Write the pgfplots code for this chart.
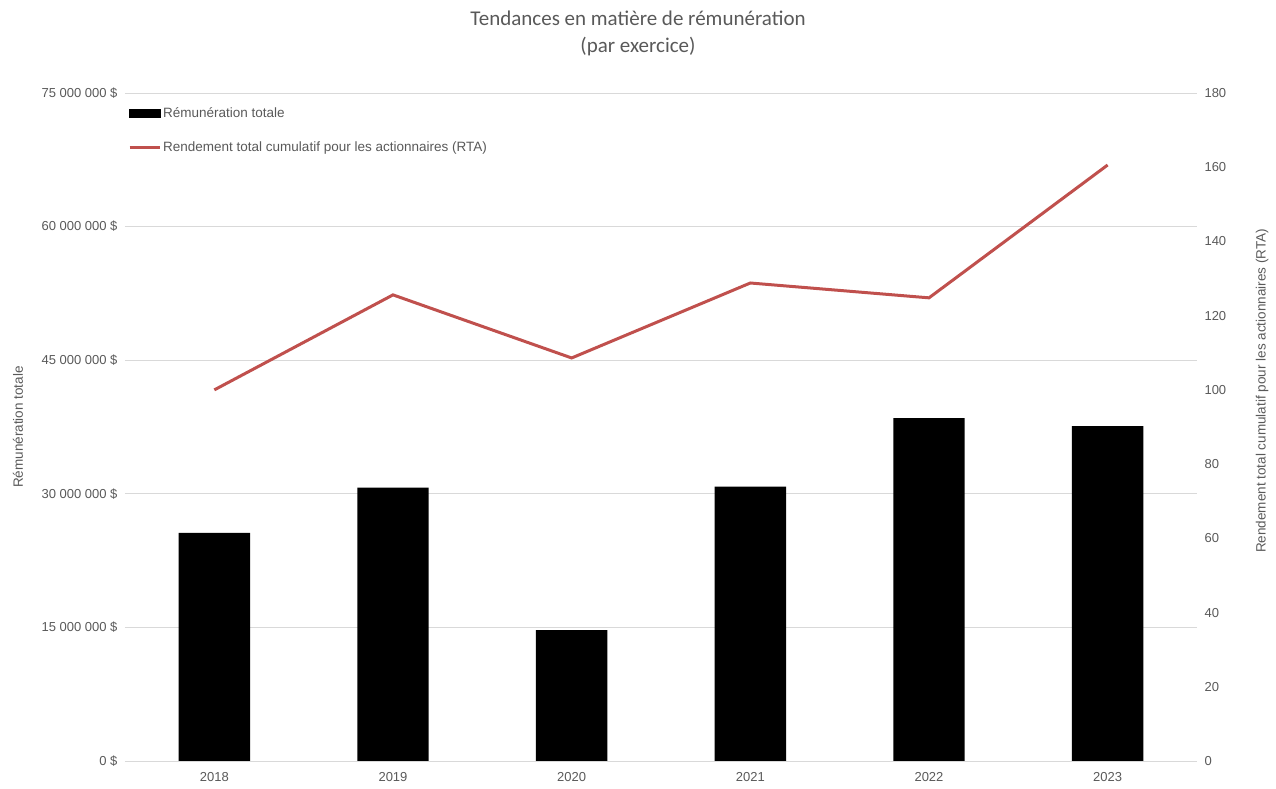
\documentclass[border=0pt]{standalone}
\usepackage{pgfplots}
\pgfplotsset{compat=1.18}
\usepackage{fontspec}
\setmainfont{Liberation Sans}
\newfontfamily\titlefont{Carlito}
\definecolor{txt}{HTML}{595959}
\definecolor{gridc}{HTML}{D9D9D9}
\definecolor{rta}{HTML}{C0504D}

\pgfplotstableread{
x  comp      rta
0  25600000  100.0
1  30700000  125.6
2  14700000  108.6
3  30800000  128.8
4  38500000  124.8
5  37600000  160.6
}\data

\begin{document}
\begin{tikzpicture}
\path[use as bounding box] (-125pt,-28pt) rectangle (1151pt,761pt);

\begin{axis}[
    scale only axis, width=1072pt, height=668pt,
    xmin=-0.5, xmax=5.5, ymin=0, ymax=75000000,
    axis line style={draw=none},
    major tick length=0pt,
    xtick=data, xticklabels={2018,2019,2020,2021,2022,2023},
    ytick={0,15000000,30000000,45000000,60000000,75000000},
    yticklabels={0 \$,15 000 000 \$,30 000 000 \$,45 000 000 \$,60 000 000 \$,75 000 000 \$},
    xmajorgrids=false, ymajorgrids=true,
    major grid style={draw=gridc, line width=0.8pt},
    tick label style={font=\fontsize{13}{15}\selectfont, text=txt},
    yticklabel style={xshift=-4pt},
    xticklabel style={yshift=-8pt},
    scaled y ticks=false,
    ylabel={Rémunération totale},
    every axis y label/.style={at={(rel axis cs:0,0.5)}, xshift=-107pt, rotate=90,
        font=\fontsize{13.5}{15}\selectfont, text=txt},
]
\addplot[ybar, bar width=0.4, fill=black, draw=none] table[x=x, y=comp] {\data};
\end{axis}

\begin{axis}[
    scale only axis, width=1072pt, height=668pt,
    xmin=-0.5, xmax=5.5, ymin=0, ymax=180,
    axis x line=none, axis y line*=right,
    axis line style={draw=none},
    major tick length=0pt,
    xmajorgrids=false, ymajorgrids=false,
    ytick={0,20,...,180},
    /pgf/number format/assume math mode=true,
    tick label style={font=\fontsize{13}{15}\selectfont, text=txt},
    yticklabel style={xshift=4pt},
    legend style={at={(0,1)}, anchor=north west, xshift=3pt, yshift=-12pt,
        draw=none, fill=none, font=\fontsize{13.5}{15}\selectfont, text=txt,
        row sep=19pt, inner sep=0pt, nodes={inner xsep=2pt}},
    legend cell align=left,
]
\addlegendimage{legend image code/.code={
    \fill[black] (0pt,-4pt) rectangle (30pt,4pt);}}
\addlegendentry{Rémunération totale}
\addplot[rta, line width=3pt, mark=none,
    legend image code/.code={\draw[rta, line width=3pt] (0pt,0pt) -- (30pt,0pt);}]
    table[x=x, y=rta] {\data};
\addlegendentry{Rendement total cumulatif pour les actionnaires (RTA)}
\end{axis}

\node[rotate=90, text=txt, font=\fontsize{13.5}{15}\selectfont] at (1137pt,370pt)
    {Rendement total cumulatif pour les actionnaires (RTA)};
\node[text=txt, font=\titlefont\fontsize{21}{24}\selectfont] at (513pt,743pt)
    {Tendances en matière de rémunération};
\node[text=txt, font=\titlefont\fontsize{21}{24}\selectfont] at (513pt,714pt)
    {(par exercice)};
\end{tikzpicture}
\end{document}
